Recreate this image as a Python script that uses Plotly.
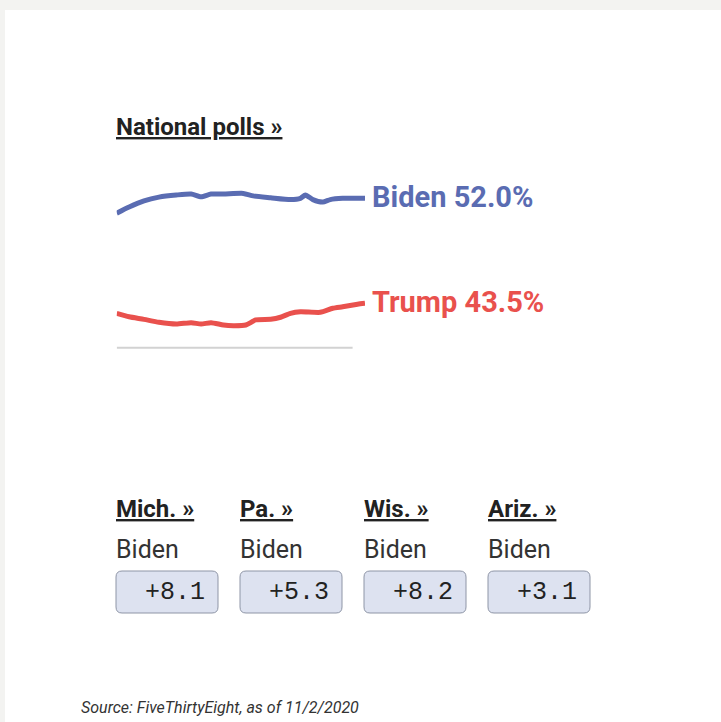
import plotly.graph_objects as go

# ---- data ----
biden_days = [0, 5, 11, 17, 24, 30, 34, 38, 43, 51, 55, 62, 70, 74, 76, 79, 83, 86, 91, 100]
biden_vals = [50.8, 51.3, 51.8, 52.1, 52.27, 52.35, 52.13, 52.35, 52.35, 52.4, 52.2, 52.05,
              51.9, 52.0, 52.27, 51.9, 51.7, 51.9, 52.0, 52.0]
trump_days = [0, 5, 11, 17, 24, 30, 34, 38, 43, 47, 52, 56, 62, 66, 70, 74, 82, 87, 91, 97, 100]
trump_vals = [42.69, 42.41, 42.2, 41.96, 41.82, 41.93, 41.82, 41.93, 41.74, 41.69, 41.74, 42.15,
              42.2, 42.37, 42.69, 42.82, 42.77, 43.1, 43.22, 43.42, 43.5]
candidates = ["Biden", "Trump"]
latest = [52.0, 43.5]

states = ["Mich.", "Pa.", "Wis.", "Ariz."]
leaders = ["Biden", "Biden", "Biden", "Biden"]
margins = [8.1, 5.3, 8.2, 3.1]

W, H = 721, 722
BLUE = "#5a6cb2"
RED = "#e9514d"
FONT = "Roboto, Lato, Liberation Sans, sans-serif"
MONO = "Liberation Mono, DejaVu Sans Mono, monospace"


def px_x(p):
    return p / W


def px_y(p):
    return 1 - p / H


fig = go.Figure()
fig.add_trace(go.Scatter(x=biden_days, y=biden_vals, mode="lines",
                         line=dict(color=BLUE, width=5, shape="spline", smoothing=0.6),
                         hoverinfo="skip", showlegend=False))
fig.add_trace(go.Scatter(x=trump_days, y=trump_vals, mode="lines",
                         line=dict(color=RED, width=5, shape="spline", smoothing=0.6),
                         hoverinfo="skip", showlegend=False))

shapes = []
# background card
shapes.append(dict(type="rect", xref="paper", yref="paper", x0=px_x(5), x1=1.01,
                   y0=-0.01, y1=px_y(10), fillcolor="white", line=dict(width=0), layer="below"))
# baseline under the lines
shapes.append(dict(type="line", xref="x", yref="y", x0=0, x1=95, y0=39.9, y1=39.9,
                   line=dict(color="#d2d2d2", width=2)))

annotations = []
annotations.append(dict(xref="paper", yref="paper", x=px_x(114), y=px_y(127),
                        xanchor="left", yanchor="middle", showarrow=False,
                        text="<b><u>National polls »</u></b>",
                        font=dict(family=FONT, size=24, color="#222222")))
for name, val, col in zip(candidates, latest, [BLUE, RED]):
    annotations.append(dict(xref="x", yref="y", x=100, y=val, xanchor="left", yanchor="middle",
                            xshift=5, yshift=1, showarrow=False,
                            text=f"<b>{name} {val:.1f}%</b>",
                            font=dict(family=FONT, size=29, color=col)))

col_left = [116, 240, 364, 488]
bw, bh, r = 102, 42, 6
for st, ld, mg, xl in zip(states, leaders, margins, col_left):
    annotations.append(dict(xref="paper", yref="paper", x=px_x(xl - 2), y=px_y(509),
                            xanchor="left", yanchor="middle", showarrow=False,
                            text=f"<b><u>{st} »</u></b>",
                            font=dict(family=FONT, size=24, color="#222222")))
    annotations.append(dict(xref="paper", yref="paper", x=px_x(xl - 2), y=px_y(549),
                            xanchor="left", yanchor="middle", showarrow=False,
                            text=ld,
                            font=dict(family=FONT, size=25, color="#333333")))
    # rounded box
    x0, x1 = px_x(xl), px_x(xl + bw)
    y0, y1 = px_y(571 + bh), px_y(571)
    rx, ry = r / W, r / H
    path = (f"M {x0+rx},{y1} L {x1-rx},{y1} Q {x1},{y1} {x1},{y1-ry} "
            f"L {x1},{y0+ry} Q {x1},{y0} {x1-rx},{y0} L {x0+rx},{y0} "
            f"Q {x0},{y0} {x0},{y0+ry} L {x0},{y1-ry} Q {x0},{y1} {x0+rx},{y1} Z")
    shapes.append(dict(type="path", xref="paper", yref="paper", path=path,
                       fillcolor="#dde2f0", line=dict(color="#8e95a6", width=1)))
    annotations.append(dict(xref="paper", yref="paper", x=px_x(xl + 91), y=px_y(592),
                            xanchor="right", yanchor="middle", showarrow=False,
                            text=f"+{mg:.1f}",
                            font=dict(family=MONO, size=25, color="#222222")))

annotations.append(dict(xref="paper", yref="paper", x=px_x(79), y=px_y(707),
                        xanchor="left", yanchor="middle", showarrow=False,
                        text="<i>Source: FiveThirtyEight, as of 11/2/2020</i>",
                        font=dict(family=FONT, size=16, color="#333333")))

fig.update_layout(
    width=W, height=H,
    margin=dict(l=0, r=0, t=0, b=0),
    paper_bgcolor="#f3f3f1",
    plot_bgcolor="rgba(0,0,0,0)",
    shapes=shapes,
    annotations=annotations,
    xaxis=dict(domain=[px_x(116.7), px_x(365)], range=[0, 100], visible=False, fixedrange=True),
    yaxis=dict(domain=[px_y(350.2), px_y(186)], range=[39.7, 53], visible=False, fixedrange=True),
    showlegend=False,
)
fig.write_html("out.html", config={"displayModeBar": False},
               post_script="document.body.style.margin='0';document.body.style.overflow='hidden';")
